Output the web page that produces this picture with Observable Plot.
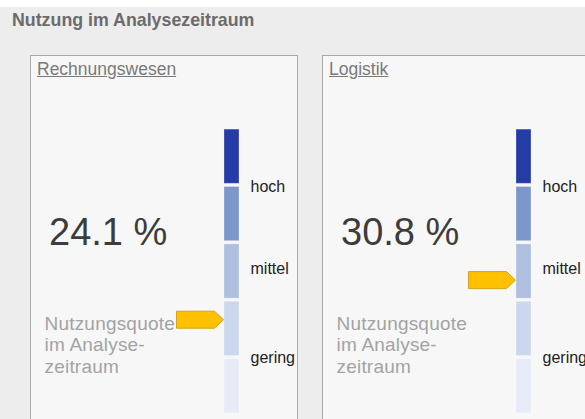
<!DOCTYPE html>
<html>
<head>
<meta charset="utf-8">
<script src="https://cdn.jsdelivr.net/npm/d3@7"></script>
<script src="https://cdn.jsdelivr.net/npm/@observablehq/plot@0.6"></script>
<style>
  html, body { margin: 0; padding: 0; }
  body { width: 585px; height: 419px; overflow: hidden; background: #ededed; position: relative;
         font-family: "Liberation Sans", Arial, sans-serif; }
  .topband { position: absolute; left: 0; top: 0; width: 585px; height: 7px; background: #ffffff; }
  .title { position: absolute; left: 12px; top: 11.9px; font-size: 17.8px; line-height: 17.8px;
           font-weight: bold; color: #6b6b6b; white-space: nowrap; }
  .card { position: absolute; top: 55px; width: 266px; height: 400px; background: #f7f7f7;
          border: 1px solid #a8a8a8; }
  .card-title { position: absolute; left: 6px; top: 5.2px; font-size: 17.5px; line-height: 17.5px;
                color: #7a7a7a; text-decoration: underline; white-space: nowrap; }
  .number { position: absolute; left: 18px; top: 156.8px; font-size: 38px; line-height: 38px;
            color: #3c3c3c; white-space: nowrap; }
  .desc { position: absolute; left: 13.5px; top: 256.9px; font-size: 19px; line-height: 21.5px;
          letter-spacing: 0.2px; color: #a3a3a3; white-space: nowrap; }
  .gauge { position: absolute; left: 0; top: 0; }
</style>
</head>
<body>
<div class="topband"></div>
<div class="title" id="title"></div>
<div id="cards"></div>
<script>
// ---- data ----
const pageTitle = "Nutzung im Analysezeitraum";
const cardNames = ["Rechnungswesen", "Logistik"];
const quotes = [24.1, 30.8];              // Nutzungsquote in %
const arrowLevels = [1.66, 2.35];         // marker position on the 5-step gauge (0 = bottom, 5 = top)
const descLines = ["Nutzungsquote", "im Analyse-", "zeitraum"];
const segments = [0, 1, 2, 3, 4];          // gauge steps, bottom to top
const segmentColors = ["#e6ebf7", "#cbd7ec", "#aebfdf", "#7d97ca", "#253ba6"];
const levelNames = ["hoch", "mittel", "gering"];
const levelPositions = [3.98, 2.55, 0.99];

const cardLefts = [30, 322];

document.getElementById("title").textContent = pageTitle;

const arrowSymbol = {
  draw(context) {
    context.moveTo(-47, -8.5);
    context.lineTo(-9, -8.5);
    context.lineTo(0, 0);
    context.lineTo(-9, 8.5);
    context.lineTo(-47, 8.5);
    context.closePath();
  }
};

const container = document.getElementById("cards");
cardNames.forEach((name, i) => {
  const card = document.createElement("div");
  card.className = "card";
  card.style.left = cardLefts[i] + "px";

  const segData = segments.map(s => ({lo: s, hi: s + 1, color: segmentColors[s]}));
  const labelData = levelNames.map((n, k) => ({name: n, y: levelPositions[k]}));

  const plot = Plot.plot({
    width: 266,
    height: 363,
    marginLeft: 193,
    marginRight: 58,
    marginTop: 71.5,
    marginBottom: 4.5,
    x: {domain: [0, 1], axis: null},
    y: {domain: [0, 5], axis: null},
    style: {background: "transparent", fontFamily: "'Liberation Sans', Arial, sans-serif", overflow: "visible"},
    marks: [
      Plot.rect(segData, {x1: 0, x2: 1, y1: "lo", y2: "hi", fill: "color", insetTop: 1.6, insetBottom: 1.6,
                          stroke: "#ffffff", strokeOpacity: 0.35, strokeWidth: 0.8}),
      Plot.text(labelData, {x: 1, y: "y", text: "name", textAnchor: "start", dx: 11, fontSize: 16, fill: "#222"}),
      Plot.dot([arrowLevels[i]], {x: 0, y: d => d, symbol: arrowSymbol, r: 5, dx: -1,
                                  fill: "#ffc000", stroke: "#d4a21a", strokeWidth: 1})
    ]
  });
  plot.classList.add("gauge");
  card.appendChild(plot);

  const t = document.createElement("div");
  t.className = "card-title";
  t.textContent = name;
  card.appendChild(t);

  const num = document.createElement("div");
  num.className = "number";
  num.textContent = quotes[i].toFixed(1) + " %";
  card.appendChild(num);

  const desc = document.createElement("div");
  desc.className = "desc";
  desc.innerHTML = descLines.join("<br>");
  card.appendChild(desc);

  container.appendChild(card);
});
</script>
</body>
</html>
